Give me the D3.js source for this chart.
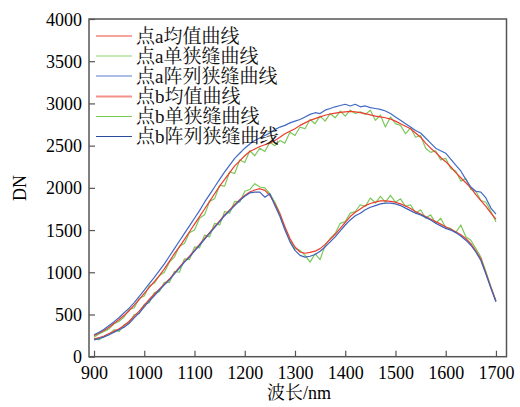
<!DOCTYPE html>
<html><head><meta charset="utf-8">
<script src="https://cdn.jsdelivr.net/npm/d3@7/dist/d3.min.js"></script>
<style>body{margin:0;background:#fff}svg{display:block}</style>
</head><body>
<script>
const wavelengths = d3.range(900, 1701, 10);
const aMean = [250,280,310,350,395,440,490,545,610,680,750,820,890,960,1040,1130,1220,1300,1390,1480,1570,1660,1750,1840,1930,2020,2100,2180,2260,2320,2380,2430,2460,2490,2510,2530,2560,2600,2640,2670,2700,2740,2770,2800,2820,2840,2860,2875,2885,2895,2900,2905,2900,2890,2880,2865,2850,2840,2830,2815,2790,2760,2730,2700,2650,2600,2530,2470,2420,2360,2310,2250,2180,2120,2060,2000,1920,1850,1780,1700,1630];
const aSingle = [230,270,300,330,390,420,470,560,580,690,720,840,870,960,1000,1120,1180,1310,1340,1470,1500,1640,1680,1840,1870,2030,2020,2190,2170,2330,2300,2440,2380,2470,2430,2540,2500,2560,2530,2660,2620,2720,2700,2810,2760,2850,2790,2880,2830,2910,2850,2920,2880,2900,2870,2920,2800,2860,2720,2840,2760,2740,2640,2710,2600,2620,2470,2420,2440,2330,2350,2230,2200,2080,2110,1980,1960,1850,1830,1720,1600];
const aArray = [260,290,325,370,415,465,520,575,640,715,790,865,940,1020,1100,1190,1280,1370,1460,1550,1640,1730,1830,1920,2010,2100,2190,2270,2350,2410,2470,2520,2560,2590,2620,2650,2690,2720,2740,2770,2790,2810,2840,2870,2890,2880,2920,2940,2960,2975,2990,2970,2990,2960,2970,2950,2940,2930,2910,2880,2840,2800,2760,2720,2680,2650,2590,2530,2470,2440,2410,2340,2270,2200,2100,2010,1960,1950,1880,1760,1690];
const bMean = [210,225,245,275,300,330,370,420,480,540,610,680,740,800,860,920,990,1060,1130,1190,1260,1330,1400,1470,1540,1610,1680,1740,1800,1860,1910,1950,1975,1990,1970,1910,1810,1690,1540,1400,1300,1240,1225,1235,1250,1280,1330,1390,1450,1520,1590,1660,1710,1750,1790,1815,1830,1845,1845,1840,1830,1810,1785,1755,1720,1690,1660,1630,1600,1570,1540,1510,1480,1445,1400,1340,1250,1160,990,820,660];
const bSingle = [220,200,240,260,320,300,380,400,500,510,620,640,760,770,880,880,1010,1000,1160,1150,1300,1290,1440,1420,1580,1560,1720,1700,1840,1830,1960,1980,2050,2010,2000,1930,1830,1700,1520,1380,1280,1260,1200,1120,1220,1150,1320,1400,1460,1580,1600,1700,1720,1800,1780,1880,1820,1900,1830,1910,1830,1870,1780,1800,1700,1740,1640,1680,1580,1640,1530,1520,1470,1560,1420,1380,1280,1180,1010,830,660];
const bArray = [200,215,235,260,290,320,350,395,460,520,590,660,720,790,850,910,980,1050,1120,1180,1250,1320,1390,1460,1530,1600,1670,1730,1790,1850,1900,1940,1950,1950,1890,1930,1790,1660,1500,1360,1260,1200,1180,1190,1210,1250,1300,1360,1420,1490,1560,1620,1670,1700,1740,1770,1790,1810,1820,1820,1810,1790,1760,1730,1700,1680,1650,1620,1580,1550,1520,1500,1470,1430,1380,1320,1240,1140,980,810,650];
const seriesNames = ["点a均值曲线","点a单狭缝曲线","点a阵列狭缝曲线","点b均值曲线","点b单狭缝曲线","点b阵列狭缝曲线"];
const xTicks = [900,1000,1100,1200,1300,1400,1500,1600,1700];
const yTicks = [0,500,1000,1500,2000,2500,3000,3500,4000];

const W = 520, H = 407;
const mLeft = 89, mRight = 506.5, mTop = 19, mBottom = 356.7;
const serif = "'Liberation Serif','Times New Roman',serif";
const cjk = "'Liberation Serif','Noto Serif CJK SC','Noto Sans CJK SC',serif";

const svg = d3.select("body").append("svg").attr("width", W).attr("height", H);
const x = d3.scaleLinear().domain([890, 1721]).range([mLeft, mRight]);
const y = d3.scaleLinear().domain([0, 4000]).range([mBottom, mTop]);

const series = [
  {name: seriesNames[0], v: aMean,   color: "#ee3b2e", lc: "#f0483a", lw: 1.2},
  {name: seriesNames[1], v: aSingle, color: "#7cc85a", lc: "#8ed26c", lw: 1.2},
  {name: seriesNames[2], v: aArray,  color: "#4169c5", lc: "#5a7fcb", lw: 1.2},
  {name: seriesNames[3], v: bMean,   color: "#ee3b2e", lc: "#f3928a", lw: 2},
  {name: seriesNames[4], v: bSingle, color: "#7cc85a", lc: "#76cc52", lw: 1.2},
  {name: seriesNames[5], v: bArray,  color: "#3c62bd", lc: "#2b4a9a", lw: 1.2}
];
const drawOrder = [1,4,0,3,2,5];

const line = d3.line().x((d,i) => x(wavelengths[i])).y(d => y(d));
drawOrder.forEach(k => {
  svg.append("path").datum(series[k].v).attr("d", line)
    .attr("fill","none").attr("stroke", series[k].color).attr("stroke-width", 1.2)
    .attr("stroke-linejoin","round");
});

// axes
const gx = svg.append("g").attr("transform", `translate(0,${mBottom})`)
  .call(d3.axisBottom(x).tickValues(xTicks).tickSize(-6).tickPadding(12).tickFormat(d3.format("d")));
const gy = svg.append("g").attr("transform", `translate(${mLeft},0)`)
  .call(d3.axisLeft(y).tickValues(yTicks).tickSize(-6).tickPadding(7).tickFormat(d3.format("d")));
[gx, gy].forEach(g => {
  g.select(".domain").remove();
  g.selectAll(".tick line").attr("stroke", "#555").attr("stroke-width", 1.2);
  g.selectAll(".tick text").attr("fill","#000").style("font-family", serif).style("font-size","18px");
});
gx.selectAll(".tick text").attr("dy","0.55em");
gy.selectAll(".tick text").attr("dy","0.34em");

// frame
svg.append("rect").attr("x", mLeft).attr("y", mTop).attr("width", mRight-mLeft).attr("height", mBottom-mTop)
  .attr("fill","none").attr("stroke","#555").attr("stroke-width",1.5);

// legend
const legY = [36, 56, 76, 96.5, 116.5, 136.5];
series.forEach((s, i) => {
  svg.append("line").attr("x1", 96).attr("x2", 132).attr("y1", legY[i]).attr("y2", legY[i])
    .attr("stroke", s.lc).attr("stroke-width", s.lw);
  svg.append("text").attr("x", 136).attr("y", legY[i]).attr("dy","0.36em")
    .style("font-family", cjk).style("font-size","19px").attr("fill","#111").text(s.name);
});

// axis titles
svg.append("text").attr("transform", `translate(20,188) rotate(-90)`).attr("text-anchor","middle")
  .attr("dy","0.35em").style("font-family", serif).style("font-size","18px").text("DN");
svg.append("text").attr("x", 299).attr("y", 393).attr("text-anchor","middle").attr("dy","0.35em")
  .style("font-family", cjk).style("font-size","18px").text("波长/nm");
</script>
</body></html>
